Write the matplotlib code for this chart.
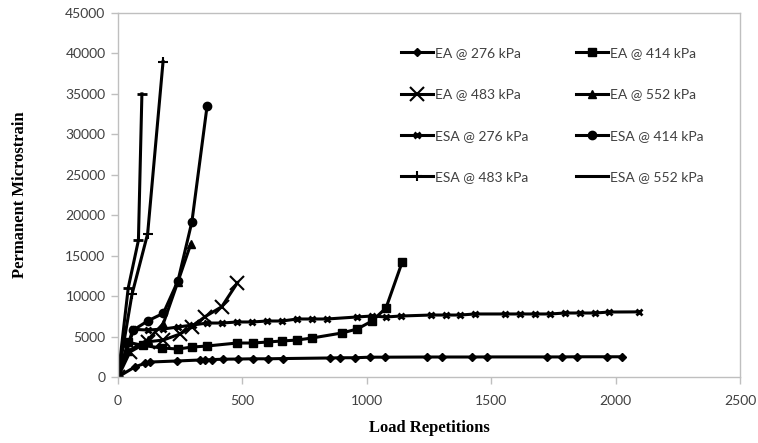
import matplotlib
matplotlib.use("Agg")
from matplotlib import pyplot as plt

# data
ea276_x = [0, 68, 109, 129, 237, 330, 350, 378, 422, 482, 543, 603, 663, 852, 892, 953,
           1013, 1073, 1242, 1302, 1423, 1483, 1725, 1785, 1845, 1966, 2026]
ea276_y = [0, 1250, 1700, 1850, 1980, 2100, 2100, 2150, 2200, 2220, 2250, 2250, 2280, 2350,
           2380, 2380, 2450, 2450, 2470, 2470, 2470, 2480, 2480, 2480, 2500, 2500, 2500]

ea414_x = [0, 40, 100, 177, 241, 297, 358, 478, 543, 603, 659, 720, 780, 900, 961, 1021, 1077, 1142]
ea414_y = [0, 4300, 3900, 3580, 3460, 3700, 3830, 4200, 4200, 4330, 4450, 4570, 4820, 5440,
           5930, 6920, 8530, 14200]

ea483_x = [0, 48, 122, 182, 249, 296, 350, 417, 480]
ea483_y = [0, 3100, 4360, 4570, 5310, 6220, 7460, 8690, 11650]

ea552_x = [0, 40, 120, 182, 241, 292]
ea552_y = [0, 3200, 4600, 6600, 11800, 16400]

esa276_x = [0, 60, 121, 181, 241, 301, 358, 418, 478, 539, 599, 659, 720, 780, 840, 961, 1021,
            1077, 1138, 1258, 1319, 1375, 1435, 1556, 1616, 1676, 1737, 1797, 1857, 1918, 1974, 2094]
esa276_y = [0, 5900, 5800, 5930, 6180, 6430, 6670, 6670, 6800, 6800, 6920, 6920, 7170, 7170,
            7170, 7420, 7540, 7420, 7540, 7660, 7660, 7660, 7790, 7790, 7790, 7790, 7790, 7910,
            7910, 7910, 8030, 8050]

esa414_x = [0, 62, 121, 182, 241, 297, 358]
esa414_y = [0, 5810, 6960, 7870, 11900, 19200, 33500]

esa483_x = [0, 56, 119, 181]
esa483_y = [0, 10200, 17700, 39000]

esa552_x = [0, 41, 82, 96]
esa552_y = [0, 11000, 16900, 35000]

labels = ["EA @ 276 kPa", "EA @ 414 kPa", "EA @ 483 kPa", "EA @ 552 kPa",
          "ESA @ 276 kPa", "ESA @ 414 kPa", "ESA @ 483 kPa", "ESA @ 552 kPa"]

fig = plt.figure(figsize=(7.58, 4.43), dpi=100)
ax = fig.add_axes([0.1557, 0.149, 0.8206, 0.8217])

lw = 2.2
grey = "#bfbfbf"
h = {}
h[0], = ax.plot(ea276_x, ea276_y, "k-", lw=lw, marker="D", ms=4)
h[1], = ax.plot(ea414_x, ea414_y, "k-", lw=lw, marker="s", ms=6)
h[2], = ax.plot(ea483_x, ea483_y, "k-", lw=lw, marker="x", ms=10, mew=1.5)
h[3], = ax.plot(ea552_x, ea552_y, "k-", lw=lw, marker="^", ms=6)
h[4], = ax.plot(esa276_x, esa276_y, "k-", lw=lw, marker="x", ms=4, mew=2)
h[5], = ax.plot(esa414_x, esa414_y, "k-", lw=lw, marker="o", ms=6)
h[6], = ax.plot(esa483_x, esa483_y, "k-", lw=lw, marker="+", ms=7, mew=1.5)
h[7], = ax.plot(esa552_x, esa552_y, "k-", lw=lw, marker="_", ms=7, mew=2)

ax.set_xlim(0, 2500)
ax.set_ylim(0, 45000)
ax.set_xticks(range(0, 2501, 500))
ax.set_yticks(range(0, 45001, 5000))

for s in ax.spines.values():
    s.set_color(grey)
    s.set_linewidth(1)
ax.tick_params(colors=grey, labelcolor="#404040", length=5, width=1, labelsize=10)
for t in ax.get_xticklabels() + ax.get_yticklabels():
    t.set_family("Lato")
ax.tick_params(axis="x", pad=8)
ax.tick_params(axis="y", pad=4)

ax.set_xlabel("Load Repetitions", family="Liberation Serif", fontweight="bold",
              fontsize=12, labelpad=9)
ax.set_ylabel("Permanent Microstrain", family="Liberation Serif", fontweight="bold",
              fontsize=12, labelpad=27)

order = [0, 2, 4, 6, 1, 3, 5, 7]
leg = ax.legend([h[i] for i in order], [labels[i] for i in order], ncol=2, frameon=False,
                loc="upper left", bbox_to_anchor=(0.435, 0.94), handlelength=2.3,
                handletextpad=0.15, labelspacing=2.1, columnspacing=3.45,
                prop={"family": "Lato", "size": 10})
for t in leg.get_texts():
    t.set_color("#404040")

fig.savefig("out.png", dpi=100)
